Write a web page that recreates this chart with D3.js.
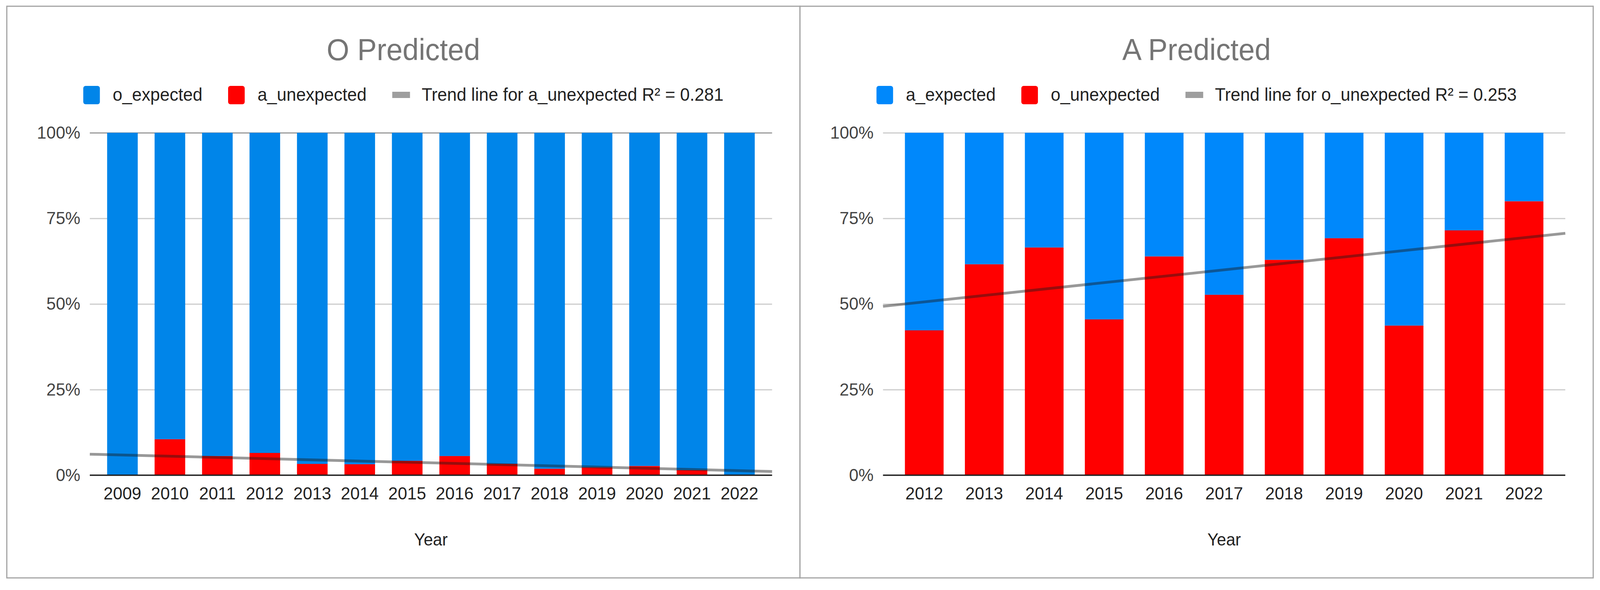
<!DOCTYPE html>
<html>
<head>
<meta charset="utf-8">
<script src="https://cdn.jsdelivr.net/npm/d3@7"></script>
<style>
  html, body { margin: 0; padding: 0; background: #fff; overflow: hidden; }
  svg { display: block; width: 100vw; height: 100vh; }
  text { font-family: "Liberation Sans", Arial, sans-serif; }
</style>
</head>
<body>
<div id="chart"></div>
<script>
// Values, as % of each year's bar
var leftYears = ["2009", "2010", "2011", "2012", "2013", "2014", "2015", "2016", "2017", "2018", "2019", "2020", "2021", "2022"];
var leftExpected = [100, 89.5, 94.4, 93.5, 96.7, 96.8, 95.8, 94.4, 96.7, 98.1, 97.7, 97.3, 98.5, 100];
var leftUnexpected = [0, 10.5, 5.6, 6.5, 3.3, 3.2, 4.2, 5.6, 3.3, 1.9, 2.3, 2.7, 1.5, 0];
var leftLegend = ["o_expected", "a_unexpected", "Trend line for a_unexpected R\u00B2 = 0.281"];

var rightYears = ["2012", "2013", "2014", "2015", "2016", "2017", "2018", "2019", "2020", "2021", "2022"];
var rightExpected = [57.7, 38.4, 33.5, 54.5, 36.1, 47.3, 37.1, 30.8, 56.3, 28.5, 20.0];
var rightUnexpected = [42.3, 61.6, 66.5, 45.5, 63.9, 52.7, 62.9, 69.2, 43.7, 71.5, 80.0];
var rightLegend = ["a_expected", "o_unexpected", "Trend line for o_unexpected R\u00B2 = 0.253"];

var yTicks = [0, 0.25, 0.5, 0.75, 1];

// Define SVG area and panel layout
var svgWidth = 4240;
var svgHeight = 1511;
var panelWidth = 2102;
var plotLeft = 220;
var plotTop = 340;
var plotWidth = 1808;
var plotHeight = 877;
var fontFamily = "'Liberation Sans', Arial, sans-serif";

// viewBox so the drawing always fills the window
var svg = d3.select("#chart")
  .append("svg")
  .attr("viewBox", `0 0 ${svgWidth} ${svgHeight}`)
  .attr("preserveAspectRatio", "none");

function drawPanel(panelX, title, years, expected, unexpected, legendLabels, blue, topGrid) {
  var panel = svg.append("g").attr("transform", `translate(${panelX}, 0)`);

  // frame
  panel.append("rect")
    .attr("x", 0).attr("y", 16)
    .attr("width", panelWidth).attr("height", 1464)
    .attr("fill", "#fff")
    .attr("stroke", "#a3a3a3")
    .attr("stroke-width", 3);

  panel.append("text")
    .attr("x", panelWidth / 2)
    .attr("y", 154)
    .attr("text-anchor", "middle")
    .attr("font-size", "77px")
    .attr("fill", "#757575")
    .text(title);

  // legend, centred on the panel
  var colors = [blue, "#ff0000", "#9e9e9e"];
  var legend = panel.append("g");
  var cursor = 0;
  legendLabels.forEach(function(label, i) {
    if (i == 2) {
      legend.append("rect")
        .attr("x", cursor).attr("y", 235)
        .attr("width", 47).attr("height", 16)
        .attr("fill", colors[i]);
      cursor += 78;
    } else {
      legend.append("rect")
        .attr("x", cursor).attr("y", 220)
        .attr("width", 44).attr("height", 47)
        .attr("rx", 6)
        .attr("fill", colors[i]);
      cursor += 78;
    }
    var t = legend.append("text")
      .attr("x", cursor)
      .attr("y", 258)
      .attr("font-size", "46px")
      .attr("fill", "#222")
      .text(label);
    cursor += t.node().getComputedTextLength() + 68;
  });
  cursor -= 68;
  legend.attr("transform", `translate(${(panelWidth - cursor) / 2}, 0)`);

  var chartGroup = panel.append("g")
    .attr("transform", `translate(${plotLeft}, ${plotTop})`);

  var xBandScale = d3.scaleBand()
    .domain(years)
    .range([0, plotWidth])
    .paddingInner(0.355)
    .paddingOuter(0.365);

  var yLinearScale = d3.scaleLinear()
    .domain([0, 1])
    .range([plotHeight, 0]);

  // gridlines + y labels
  var leftAxis = d3.axisLeft(yLinearScale)
    .tickValues(yTicks)
    .tickFormat(d3.format(".0%"))
    .tickSize(-plotWidth)
    .tickPadding(25);

  var yAxis = chartGroup.append("g").call(leftAxis);
  yAxis.select(".domain").remove();
  yAxis.selectAll("line")
    .attr("stroke", d => d == 1 ? topGrid : "#cccccc")
    .attr("stroke-width", 3);
  yAxis.selectAll("text")
    .attr("font-size", "45px")
    .attr("fill", "#444")
    .attr("font-family", fontFamily);

  // stacked 100% bars
  var rows = years.map(function(yr, i) {
    return { year: yr, unexpected: unexpected[i], expected: expected[i] };
  });
  var series = d3.stack()
    .keys(["unexpected", "expected"])
    .offset(d3.stackOffsetExpand)(rows);
  var fill = { unexpected: "#ff0000", expected: blue };

  chartGroup.selectAll(".series")
    .data(series)
    .enter()
    .append("g")
    .attr("fill", s => fill[s.key])
    .selectAll("rect")
    .data(s => s)
    .enter()
    .append("rect")
    .attr("x", d => xBandScale(d.data.year))
    .attr("y", d => yLinearScale(d[1]))
    .attr("width", xBandScale.bandwidth())
    .attr("height", d => yLinearScale(d[0]) - yLinearScale(d[1]));

  // linear trend of the red share against the category index
  var share = rows.map(r => r.unexpected / (r.unexpected + r.expected));
  var n = share.length;
  var mx = (n - 1) / 2;
  var my = d3.mean(share);
  var sxy = d3.sum(share, (v, i) => (i - mx) * (v - my));
  var sxx = d3.sum(share, (v, i) => (i - mx) * (i - mx));
  var slope = sxy / sxx;
  var firstCenter = xBandScale(years[0]) + xBandScale.bandwidth() / 2;
  var toIndex = px => (px - firstCenter) / xBandScale.step();
  var trend = [0, plotWidth].map(px => [px, yLinearScale(my + slope * (toIndex(px) - mx))]);

  chartGroup.append("path")
    .attr("d", d3.line()(trend))
    .attr("stroke", "#1a1a1a")
    .attr("stroke-opacity", 0.45)
    .attr("stroke-width", 7)
    .attr("fill", "none");

  // baseline
  chartGroup.append("line")
    .attr("x1", 0).attr("x2", plotWidth)
    .attr("y1", plotHeight).attr("y2", plotHeight)
    .attr("stroke", "#222")
    .attr("stroke-width", 3.5);

  var bottomAxis = d3.axisBottom(xBandScale).tickSize(0).tickPadding(30);
  var xAxis = chartGroup.append("g")
    .attr("transform", `translate(0, ${plotHeight})`)
    .call(bottomAxis);
  xAxis.select(".domain").remove();
  xAxis.selectAll("text")
    .attr("font-size", "45px")
    .attr("fill", "#222")
    .attr("font-family", fontFamily);

  chartGroup.append("text")
    .attr("x", plotWidth / 2)
    .attr("y", plotHeight + 180)
    .attr("text-anchor", "middle")
    .attr("font-size", "44px")
    .attr("fill", "#222")
    .text("Year");
}

drawPanel(18, "O Predicted", leftYears, leftExpected, leftUnexpected, leftLegend, "#0085e9", "#9a9a9a");
drawPanel(2120, "A Predicted", rightYears, rightExpected, rightUnexpected, rightLegend, "#0088fb", "#cccccc");
</script>
</body>
</html>
